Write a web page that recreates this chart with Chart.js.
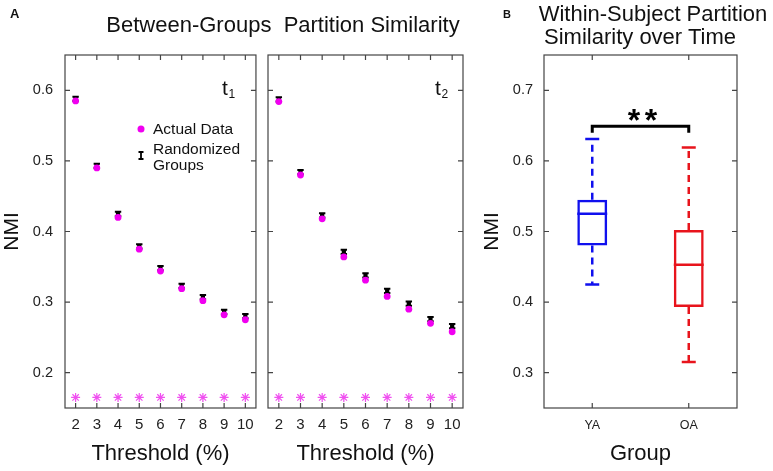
<!DOCTYPE html>
<html>
<head>
<meta charset="utf-8">
<script src="https://cdn.jsdelivr.net/npm/chart.js@4.4.1/dist/chart.umd.min.js"></script>
<style>
  body { margin: 0; background: #fff; }
  #wrap { position: relative; width: 773px; height: 471px; overflow: hidden;
          font-family: "Liberation Sans", Arial, sans-serif; color: #111; }
  canvas { position: absolute; top: 0; }
  .txt { position: absolute; white-space: pre; line-height: 1; }
</style>
</head>
<body>
<div id="wrap">
  <canvas id="c1" width="262" height="471" style="left:0"></canvas>
  <canvas id="c2" width="210" height="471" style="left:262px"></canvas>
  <canvas id="c3" width="293" height="471" style="left:480px"></canvas>
  <div class="txt" style="left:10px;top:7px;font-size:13px;font-weight:bold">A</div>
  <div class="txt" style="left:283px;top:14px;font-size:22px;transform:translateX(-50%)">Between-Groups  Partition Similarity</div>
  <div class="txt" style="left:503px;top:9px;font-size:11px;font-weight:bold">B</div>
  <div class="txt" style="left:653px;top:3px;font-size:22px;transform:translateX(-50%)">Within-Subject Partition</div>
  <div class="txt" style="left:640px;top:26px;font-size:22px;transform:translateX(-50%)">Similarity over Time</div>
</div>
<script>
// ---- data ----
const thresholds = [2, 3, 4, 5, 6, 7, 8, 9, 10];
const actualT1 = [0.585, 0.490, 0.420, 0.375, 0.344, 0.319, 0.302, 0.282, 0.275];
const randT1   = [0.588, 0.493, 0.425, 0.379, 0.348, 0.323, 0.307, 0.286, 0.280];
const actualT2 = [0.584, 0.480, 0.418, 0.364, 0.331, 0.308, 0.290, 0.270, 0.258];
const randT2   = [0.587, 0.484, 0.423, 0.371, 0.338, 0.316, 0.298, 0.276, 0.266];
const randErrT1 = [0.003, 0.003, 0.003, 0.003, 0.003, 0.003, 0.003, 0.003, 0.003];
const randErrT2 = [0.003, 0.003, 0.003, 0.003, 0.003, 0.003, 0.003, 0.003, 0.003];
const sigMarks = [0.165, 0.165, 0.165, 0.165, 0.165, 0.165, 0.165, 0.165, 0.165];
const yTicksA = [0.2, 0.3, 0.4, 0.5, 0.6];

const groups = ['YA', 'OA'];
const boxQ1 = [0.480, 0.393];
const boxMedian = [0.525, 0.453];
const boxQ3 = [0.545, 0.502];
const whiskerLow = [0.425, 0.315];
const whiskerHigh = [0.631, 0.619];
const bracketLevel = [0.640, 0.649];
const yTicksB = [0.3, 0.4, 0.5, 0.6, 0.7];

Chart.defaults.font.family = '"Liberation Sans", Arial, sans-serif';
Chart.defaults.color = '#222';

const MAGENTA = '#f000f0';
const BLUE = '#1010ee';
const RED = '#e8141c';

// Matlab style box with inward ticks on all four sides
const framePlugin = {
  id: 'frame',
  afterDraw(chart) {
    const { ctx, chartArea: a, scales: { x, y } } = chart;
    ctx.save();
    ctx.strokeStyle = '#444';
    ctx.lineWidth = 1.2;
    ctx.strokeRect(a.left, a.top, a.right - a.left, a.bottom - a.top);
    ctx.beginPath();
    y.ticks.forEach(t => {
      const py = y.getPixelForValue(t.value);
      ctx.moveTo(a.left, py); ctx.lineTo(a.left + 5, py);
      ctx.moveTo(a.right, py); ctx.lineTo(a.right - 5, py);
    });
    x.ticks.forEach((t, i) => {
      const px = x.getPixelForTick(i);
      ctx.moveTo(px, a.top); ctx.lineTo(px, a.top + 5);
      ctx.moveTo(px, a.bottom); ctx.lineTo(px, a.bottom - 5);
    });
    ctx.stroke();
    ctx.restore();
  }
};

// error bars of the randomized groups
const errorBarPlugin = {
  id: 'errorBars',
  beforeDatasetsDraw(chart, args, opts) {
    const { ctx, scales: { x, y } } = chart;
    ctx.save();
    ctx.strokeStyle = '#000';
    ctx.lineWidth = 2;
    ctx.beginPath();
    thresholds.forEach((t, i) => {
      const px = x.getPixelForValue(t);
      const top = y.getPixelForValue(opts.values[i] + opts.errors[i]);
      const bot = y.getPixelForValue(opts.values[i] - opts.errors[i]);
      ctx.moveTo(px, top); ctx.lineTo(px, bot);
      ctx.moveTo(px - 3.2, top); ctx.lineTo(px + 3.2, top);
      ctx.moveTo(px - 3.2, bot); ctx.lineTo(px + 3.2, bot);
    });
    ctx.stroke();
    ctx.restore();
  }
};

// "t1"/"t2" tag and the legend of panel A
const panelTextPlugin = {
  id: 'panelText',
  afterDraw(chart, args, opts) {
    const { ctx, chartArea: a } = chart;
    ctx.save();
    ctx.fillStyle = '#111';
    ctx.textBaseline = 'alphabetic';
    ctx.font = '21px "Liberation Sans", Arial, sans-serif';
    const tx = a.right - opts.tagOffset;
    ctx.fillText('t', tx, a.top + 40);
    ctx.font = '12px "Liberation Sans", Arial, sans-serif';
    ctx.fillText(opts.sub, tx + 6.5, a.top + 43);
    if (opts.legend) {
      const lx = a.left + 76;
      ctx.fillStyle = MAGENTA;
      ctx.beginPath();
      ctx.arc(lx, a.top + 74, 3.5, 0, Math.PI * 2);
      ctx.fill();
      ctx.strokeStyle = '#000';
      ctx.lineWidth = 1.8;
      ctx.beginPath();
      ctx.moveTo(lx, a.top + 97); ctx.lineTo(lx, a.top + 104);
      ctx.moveTo(lx - 2.5, a.top + 97); ctx.lineTo(lx + 2.5, a.top + 97);
      ctx.moveTo(lx - 2.5, a.top + 104); ctx.lineTo(lx + 2.5, a.top + 104);
      ctx.stroke();
      ctx.fillStyle = '#111';
      ctx.font = '15.5px "Liberation Sans", Arial, sans-serif';
      ctx.fillText('Actual Data', lx + 12, a.top + 79);
      ctx.fillText('Randomized', lx + 12, a.top + 99);
      ctx.fillText('Groups', lx + 12, a.top + 115);
    }
    ctx.restore();
  }
};

function thresholdChart(id, actual, rand, err, opts) {
  return new Chart(document.getElementById(id), {
    type: 'scatter',
    data: {
      datasets: [
        {
          data: thresholds.map((t, i) => ({ x: t, y: actual[i] })),
          pointRadius: 3.4, pointBackgroundColor: MAGENTA, pointBorderWidth: 0
        },
        {
          data: thresholds.map((t, i) => ({ x: t, y: rand[i] })),
          pointStyle: 'rect', pointRadius: 3, pointBackgroundColor: '#000', pointBorderWidth: 0
        },
        {
          data: thresholds.map((t, i) => ({ x: t, y: sigMarks[i] })),
          pointStyle: 'star', pointRadius: 4.5, pointBorderColor: '#f050f0', pointBorderWidth: 1.2
        }
      ]
    },
    options: {
      responsive: false,
      animation: false,
      layout: { padding: { top: 55, right: opts.rightPad, left: 0, bottom: 0 } },
      plugins: {
        legend: { display: false },
        tooltip: { enabled: false },
        errorBars: { values: rand, errors: err },
        panelText: { sub: opts.sub, tagOffset: opts.tagOffset, legend: opts.legend }
      },
      scales: {
        x: {
          type: 'linear', min: 1.5, max: 10.5,
          afterBuildTicks: s => { s.ticks = thresholds.map(v => ({ value: v })); },
          afterFit: s => { s.height = 63; },
          grid: { display: false, drawTicks: false },
          border: { display: false },
          ticks: { font: { size: 15 }, padding: 8, maxRotation: 0 },
          title: { display: true, text: 'Threshold (%)', color: '#111',
                   font: { size: 22, lineHeight: 1.2 }, padding: { top: 0, bottom: 4 } }
        },
        y: {
          type: 'linear', min: 0.15, max: 0.65,
          afterBuildTicks: s => { s.ticks = yTicksA.map(v => ({ value: v })); },
          afterFit: s => { s.width = opts.yWidth; },
          grid: { display: false, drawTicks: false },
          border: { display: false },
          ticks: { display: opts.yLabels, font: { size: 14.5 }, padding: 12,
                   callback: v => v.toFixed(1) },
          title: { display: opts.yLabels, text: 'NMI', color: '#111',
                   font: { size: 21, lineHeight: 1.2 }, padding: 0 }
        }
      }
    },
    plugins: [errorBarPlugin, framePlugin, panelTextPlugin]
  });
}

thresholdChart('c1', actualT1, randT1, randErrT1,
  { rightPad: 4, yWidth: 65, yLabels: true, sub: '1', tagOffset: 34, legend: true });
thresholdChart('c2', actualT2, randT2, randErrT2,
  { rightPad: 9, yWidth: 6, yLabels: false, sub: '2', tagOffset: 28, legend: false });

// whiskers, medians and the significance bracket of panel B
const boxPlugin = {
  id: 'boxExtras',
  afterDatasetsDraw(chart) {
    const { ctx, scales: { x, y } } = chart;
    const colors = [BLUE, RED];
    const bars = chart.getDatasetMeta(0).data;
    ctx.save();
    ctx.lineWidth = 2.5;
    groups.forEach((g, i) => {
      const px = x.getPixelForValue(i);
      const half = bars[i].width / 2;
      ctx.strokeStyle = colors[i];
      ctx.setLineDash([]);
      ctx.beginPath();
      ctx.moveTo(px - half, y.getPixelForValue(boxMedian[i]));
      ctx.lineTo(px + half, y.getPixelForValue(boxMedian[i]));
      ctx.moveTo(px - 7, y.getPixelForValue(whiskerHigh[i]));
      ctx.lineTo(px + 7, y.getPixelForValue(whiskerHigh[i]));
      ctx.moveTo(px - 7, y.getPixelForValue(whiskerLow[i]));
      ctx.lineTo(px + 7, y.getPixelForValue(whiskerLow[i]));
      ctx.stroke();
      ctx.setLineDash([7, 5]);
      ctx.beginPath();
      ctx.moveTo(px, y.getPixelForValue(boxQ3[i]));
      ctx.lineTo(px, y.getPixelForValue(whiskerHigh[i]));
      ctx.moveTo(px, y.getPixelForValue(boxQ1[i]));
      ctx.lineTo(px, y.getPixelForValue(whiskerLow[i]));
      ctx.stroke();
    });
    ctx.setLineDash([]);
    const x0 = x.getPixelForValue(0), x1 = x.getPixelForValue(1);
    const yLow = y.getPixelForValue(bracketLevel[0]);
    const yTop = y.getPixelForValue(bracketLevel[1]);
    ctx.strokeStyle = '#000';
    ctx.lineWidth = 3;
    ctx.beginPath();
    ctx.moveTo(x0, yLow); ctx.lineTo(x0, yTop); ctx.lineTo(x1, yTop); ctx.lineTo(x1, yLow);
    ctx.stroke();
    ctx.fillStyle = '#000';
    ctx.font = 'bold 32px "Liberation Sans", Arial, sans-serif';
    ctx.textAlign = 'center';
    ctx.textBaseline = 'alphabetic';
    const mid = (x0 + x1) / 2 + 2;
    ctx.fillText('*', mid - 8.5, yTop + 5);
    ctx.fillText('*', mid + 8.5, yTop + 5);
    ctx.restore();
  }
};

new Chart(document.getElementById('c3'), {
  type: 'bar',
  data: {
    labels: groups,
    datasets: [{
      data: groups.map((g, i) => [boxQ1[i], boxQ3[i]]),
      backgroundColor: 'rgba(0,0,0,0)',
      borderColor: [BLUE, RED],
      borderWidth: 2.5,
      borderSkipped: false,
      barPercentage: 0.31,
      categoryPercentage: 1
    }]
  },
  options: {
    responsive: false,
    animation: false,
    layout: { padding: { top: 55, right: 36, left: 0, bottom: 0 } },
    plugins: { legend: { display: false }, tooltip: { enabled: false } },
    scales: {
      x: {
        afterFit: s => { s.height = 63; },
        grid: { display: false, drawTicks: false },
        border: { display: false },
        ticks: { font: { size: 12.5 }, padding: 10 },
        title: { display: true, text: 'Group', color: '#111',
                 font: { size: 22, lineHeight: 1.2 }, padding: { top: 0, bottom: 4 } }
      },
      y: {
        type: 'linear', min: 0.25, max: 0.75,
        afterBuildTicks: s => { s.ticks = yTicksB.map(v => ({ value: v })); },
        afterFit: s => { s.width = 64; },
        grid: { display: false, drawTicks: false },
        border: { display: false },
        ticks: { font: { size: 14.5 }, padding: 11, callback: v => v.toFixed(1) },
        title: { display: true, text: 'NMI', color: '#111',
                 font: { size: 21, lineHeight: 1.2 }, padding: 0 }
      }
    }
  },
  plugins: [framePlugin, boxPlugin]
});
</script>
</body>
</html>
